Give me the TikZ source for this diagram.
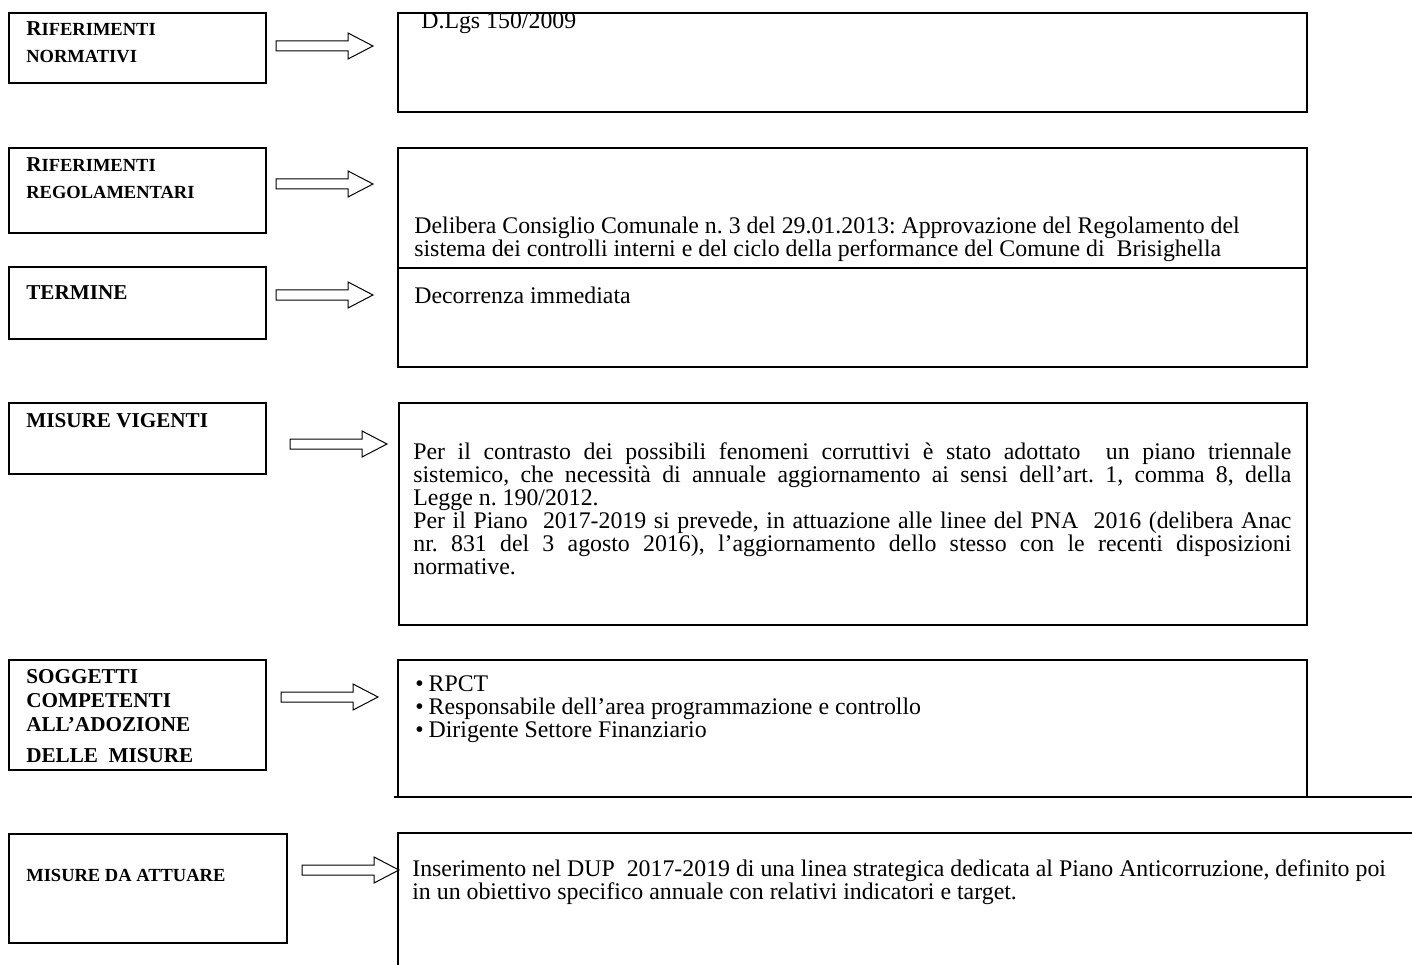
\documentclass[tikz,border=0pt]{standalone}
\usepackage{fontspec}
\setmainfont{Liberation Serif}
\usetikzlibrary{fit}
\newcommand{\lgcap}[1]{{\fontsize{12.7}{15}\selectfont #1}}
\newcommand{\smcap}[1]{{\fontsize{11.1}{13}\selectfont #1}}
\newcommand{\jline}[1]{\makebox[526.8pt][s]{#1}}
\frenchspacing
\begin{document}
\begin{tikzpicture}[x=0.6pt,y=-0.6pt,line join=miter,
  lbox/.style={draw,line width=1.3pt,inner sep=0pt},
  rbox/.style={draw,line width=1.1pt,inner sep=0pt},
  ltext/.style={anchor=base west,inner sep=0pt,font=\bfseries\fontsize{12.7}{15}\selectfont},
  rtext/.style={anchor=base west,inner sep=0pt,font=\fontsize{14.3}{17}\selectfont},
  arrowline/.style={draw,line width=0.6pt},
  barrow/.pic={\draw[arrowline] (0,-5) -- (72,-5) -- (72,-13) -- (97,0) -- (72,13) -- (72,5) -- (0,5) -- cycle;}]
\useasboundingbox (0,0) rectangle (1412,965);

% left boxes
\node[lbox,fit={(9,13) (266,83)}] (l1) {};
\node[lbox,fit={(9,148) (266,233)}] (l2) {};
\node[lbox,fit={(9,267) (266,339)}] (l3) {};
\node[lbox,fit={(9,403) (266,474)}] (l4) {};
\node[lbox,fit={(9,660) (266,770)}] (l5) {};
\node[lbox,fit={(9,834) (287,943)}] (l6) {};

% left labels
\node[ltext] (t1a) at (26,36) {\lgcap{R}\smcap{IFERIMENTI}};
\node[ltext] (t1b) at (26,63) {\smcap{NORMATIVI}};
\node[ltext] (t2a) at (26,172) {\lgcap{R}\smcap{IFERIMENTI}};
\node[ltext] (t2b) at (26,199) {\smcap{REGOLAMENTARI}};
\node[ltext] (t3) at (26,299) {TERMINE};
\node[ltext] (t4) at (26,427) {MISURE VIGENTI};
\node[ltext] (t5a) at (26,683) {SOGGETTI};
\node[ltext] (t5b) at (26,707) {COMPETENTI};
\node[ltext] (t5c) at (26,731) {ALL’ADOZIONE};
\node[ltext] (t5d) at (26,762) {DELLE\ \ MISURE};
\node[ltext] (t6) at (26,881) {\smcap{MISURE DA ATTUARE}};

% arrows
\pic at (276,46) {barrow};
\pic at (276,184) {barrow};
\pic at (276,295) {barrow};
\pic at (290,444) {barrow};
\pic at (281,697) {barrow};
\pic at (302,870) {barrow};

% right boxes
\node[rbox,fit={(398,13) (1307,112)}] (r1) {};
\node[rbox,fit={(398,148) (1307,268)}] (r2) {};
\node[rbox,fit={(398,268) (1307,367)}] (r3) {};
\node[rbox,fit={(399,403) (1307,625)}] (r4) {};
\coordinate (r5a) at (398,797);
\coordinate (r5b) at (398,660);
\coordinate (r5c) at (1307,660);
\coordinate (r5d) at (1307,797);
\coordinate (r5e) at (394,797);
\coordinate (r5f) at (1412,797);
\draw[line width=1.1pt] (r5a) -- (r5b) -- (r5c) -- (r5d);
\draw[line width=1.5pt] (r5e) -- (r5f);
\coordinate (r6a) at (398,965);
\coordinate (r6b) at (398,833);
\coordinate (r6c) at (1412,833);
\draw[line width=1.1pt] (r6a) -- (r6b) -- (r6c);

% right texts
\node[rtext] (x1) at (421,29) {D.Lgs 150/2009};
\node[rtext] (x2a) at (414,234) {Delibera Consiglio Comunale n. 3 del 29.01.2013: Approvazione del Regolamento del};
\node[rtext] (x2b) at (414,257) {sistema dei controlli interni e del ciclo della performance del Comune di\ \ Brisighella};
\node[rtext] (x3) at (414,303) {Decorrenza immediata};
\node[rtext] (x4a) at (413,459) {\jline{Per il contrasto dei possibili fenomeni corruttivi è stato adottato\ \ un piano triennale}};
\node[rtext] (x4b) at (413,482) {\jline{sistemico, che necessità di annuale aggiornamento ai sensi dell’art. 1, comma 8, della}};
\node[rtext] (x4c) at (413,505) {Legge n. 190/2012.};
\node[rtext] (x4d) at (413,528) {\jline{Per il Piano\ \ 2017-2019 si prevede, in attuazione alle linee del PNA\ \ 2016 (delibera Anac}};
\node[rtext] (x4e) at (413,551) {\jline{nr. 831 del 3 agosto 2016), l'aggiornamento dello stesso con le recenti disposizioni}};
\node[rtext] (x4f) at (413,574) {normative.};
\node[rtext] (x5a) at (415,691) {•\hspace{3pt}RPCT};
\node[rtext] (x5b) at (415,714) {•\hspace{3pt}Responsabile dell’area programmazione e controllo};
\node[rtext] (x5c) at (415,737) {•\hspace{3pt}Dirigente Settore Finanziario};
\node[rtext] (x6a) at (412,876) {Inserimento nel DUP\ \ 2017-2019 di una linea strategica dedicata al Piano Anticorruzione, definito poi};
\node[rtext] (x6b) at (412,899) {in un obiettivo specifico annuale con relativi indicatori e target.};
\end{tikzpicture}
\end{document}
